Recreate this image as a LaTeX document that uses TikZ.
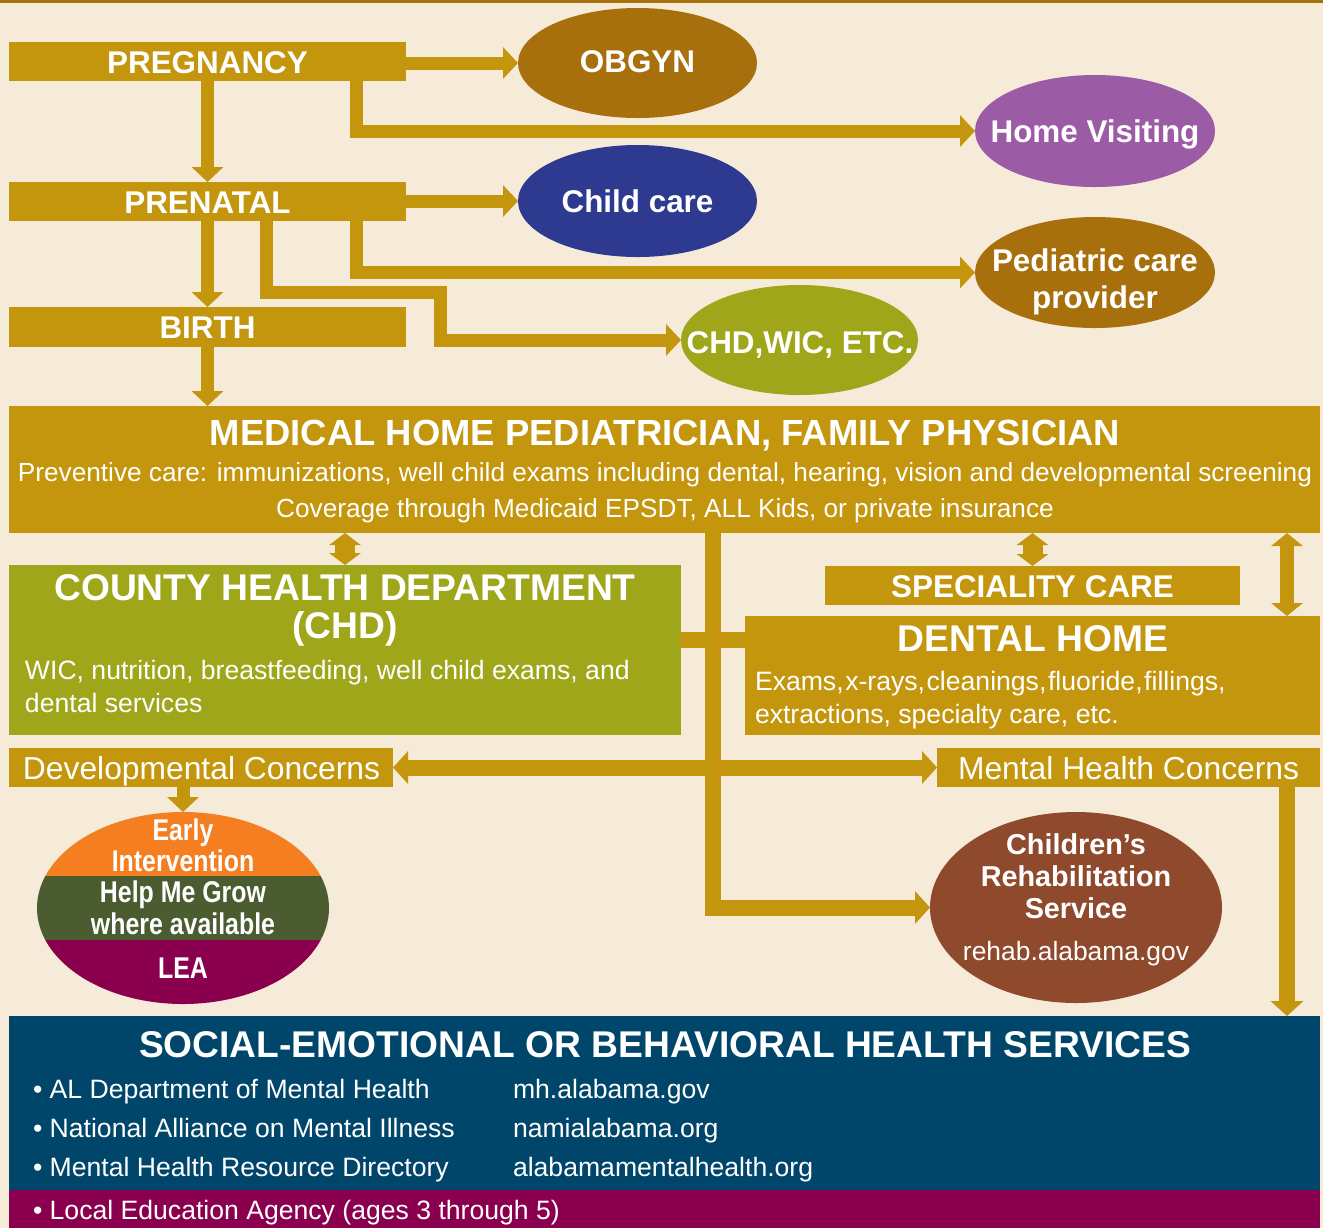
\documentclass[tikz,border=0pt]{standalone}
\usepackage{fontspec}
\setmainfont{Liberation Sans}
\newfontfamily\condfont[FakeStretch=0.83]{Liberation Sans}
\usetikzlibrary{arrows.meta,shapes.geometric,fit}
\definecolor{cream}{HTML}{F5EBD8}
\definecolor{gold}{HTML}{C4960E}
\definecolor{obrown}{HTML}{A8700C}
\definecolor{hvpurple}{HTML}{9B5BA5}
\definecolor{ccnavy}{HTML}{2D3A8F}
\definecolor{olive}{HTML}{A0A61A}
\definecolor{rust}{HTML}{8F4A2E}
\definecolor{eiorange}{HTML}{F47E20}
\definecolor{eigreen}{HTML}{4A5C30}
\definecolor{magent}{HTML}{8A004E}
\definecolor{sedblue}{HTML}{00456A}
\newcommand\fMid{\fontsize{15.7}{18}\selectfont\bfseries}
\newcommand\fBig{\fontsize{18.6}{21}\selectfont\bfseries}
\newcommand\fMed{\fontsize{18.2}{21}\selectfont\bfseries}
\newcommand\fReg{\fontsize{13.3}{16}\selectfont}
\newcommand\fPrev{\fontsize{13.1}{15}\selectfont}
\newcommand\fCon{\fontsize{15.9}{18}\selectfont}
\newcommand\fEI{\condfont\fontsize{15}{18}\selectfont\bfseries}
\newcommand\fCrs{\fontsize{14.4}{17}\selectfont\bfseries}
\begin{document}
\begin{tikzpicture}[x=0.5pt,y=-0.5pt,
  box/.style={rectangle, inner sep=0pt, outer sep=0pt},
  ell/.style={ellipse, inner sep=0pt, outer sep=0pt},
  t/.style={text=white, inner sep=0pt, outer sep=0pt, anchor=base},
  tl/.style={text=white, inner sep=0pt, outer sep=0pt, anchor=base west},
  conn/.style={draw=gold, line width=6.5pt, line join=miter, -{Triangle[width=15.5pt,length=7.5pt]}},
  connw/.style={draw=gold, line width=8pt, line join=miter},
  connwa/.style={draw=gold, line width=8pt, line join=miter, -{Triangle[width=16pt,length=7.5pt]}},
  connwd/.style={draw=gold, line width=8pt, {Triangle[width=16pt,length=7.5pt]}-{Triangle[width=16pt,length=7.5pt]}},
  dbl/.style={draw=gold, line width=10pt, {Triangle[width=15.5pt,length=6pt]}-{Triangle[width=15.5pt,length=6pt]}},
  dbltall/.style={draw=gold, line width=7pt, {Triangle[width=15.5pt,length=6.5pt]}-{Triangle[width=15.5pt,length=6.5pt]}}]
\useasboundingbox (0,0) rectangle (1323,1228);
\fill[cream] (0,0) rectangle (1323,1228);
\fill[obrown] (0,0) rectangle (1323,3);

% ---------- top boxes ----------
\node[box, fill=gold, fit={(9,42) (406,81)}] (preg) {};
\node[box, fill=gold, fit={(9,182) (406,221)}] (pren) {};
\node[box, fill=gold, fit={(9,307) (406,347)}] (birth) {};
\node[t, font=\fMid] (tpreg) at (207.5,73) {PREGNANCY};
\node[t, font=\fMid] (tpren) at (207.5,213) {PRENATAL};
\node[t, font=\fMid] (tbirth) at (207.5,338) {BIRTH};

% ---------- ellipses ----------
\node[ell, fill=obrown, minimum width=119.5pt, minimum height=55pt] (obgyn) at (637.5,63) {};
\node[ell, fill=hvpurple, minimum width=120pt, minimum height=56pt] (hv) at (1095,131) {};
\node[ell, fill=ccnavy, minimum width=119.5pt, minimum height=56pt] (cc) at (637.5,201) {};
\node[ell, fill=obrown, minimum width=120pt, minimum height=55.5pt] (ped) at (1095,272.5) {};
\node[ell, fill=olive, minimum width=118.5pt, minimum height=55pt] (chdwic) at (799.5,340) {};
\node[t, font=\fMid] (tobgyn) at (637.5,72) {OBGYN};
\node[t, font=\fMid] (thv) at (1095,142) {Home Visiting};
\node[t, font=\fMid] (tcc) at (637.5,212) {Child care};
\node[t, font=\fMid] (tped1) at (1095,271) {Pediatric care};
\node[t, font=\fMid] (tped2) at (1095,308) {provider};
\node[t, font=\fMid] (tchdwic) at (800,353) {CHD,WIC, ETC.};

% ---------- medical home ----------
\node[box, fill=gold, fit={(9,406) (1320,533)}] (med) {};
\node[t, font=\fMed] (tmed1) at (665,445) {MEDICAL HOME PEDIATRICIAN, FAMILY PHYSICIAN};
\node[t, font=\fPrev] (tmed2) at (665,481) {Preventive care: immunizations, well child exams including dental, hearing, vision and developmental screening};
\node[t, font=\fPrev] (tmed3) at (665,517) {Coverage through Medicaid EPSDT, ALL Kids, or private insurance};

% ---------- CHD ----------
\node[box, fill=olive, fit={(9,565) (681,735)}] (chd) {};
\node[t, font=\fBig] (tchd1) at (345,600) {COUNTY HEALTH DEPARTMENT};
\node[t, font=\fBig] (tchd2) at (345,638) {(CHD)};
\node[tl, font=\fReg] (tchd3) at (25,679) {WIC, nutrition, breastfeeding, well child exams, and};
\node[tl, font=\fReg] (tchd4) at (25,712) {dental services};

% ---------- speciality / dental ----------
\node[box, fill=gold, fit={(825,566) (1240,605)}] (spec) {};
\node[t, font=\fMid] (tspec) at (1032.5,597) {SPECIALITY CARE};
\node[box, fill=gold, fit={(745,616) (1320,735)}] (dental) {};
\node[t, font=\fBig] (tden1) at (1033,651) {DENTAL HOME};
\node[tl, font=\fReg] (tden2) at (755,690) {\spaceskip=0.8pt Exams, x-rays, cleanings, fluoride, fillings,};
\node[tl, font=\fReg] (tden3) at (755,723) {extractions, specialty care, etc.};

% ---------- concerns ----------
\node[box, fill=gold, fit={(9,748) (393,787)}] (dev) {};
\node[tl, font=\fCon] (tdev) at (23,779) {Developmental Concerns};
\node[box, fill=gold, fit={(937,748) (1320,787)}] (mental) {};
\node[tl, font=\fCon] (tmental) at (958,779) {Mental Health Concerns};

% ---------- early intervention ----------
\node[ell, minimum width=146pt, minimum height=96pt] (ei) at (183,908) {};
\begin{scope}
  \clip (ei.center) ellipse [x radius=73pt, y radius=48pt];
  \fill[eiorange] (30,805) rectangle (335,876);
  \fill[eigreen] (30,876) rectangle (335,940);
  \fill[magent] (30,940) rectangle (335,1010);
\end{scope}
\node[t, font=\fEI] (tei1) at (183,840) {Early};
\node[t, font=\fEI] (tei2) at (183,871) {Intervention};
\node[t, font=\fEI] (tei3) at (183,902) {Help Me Grow};
\node[t, font=\fEI] (tei4) at (183,934) {where available};
\node[t, font=\fEI] (tei5) at (183,978) {LEA};

% ---------- children's rehab ----------
\node[ell, fill=rust, minimum width=146pt, minimum height=95.5pt] (crs) at (1076,907.5) {};
\node[t, font=\fCrs] (tcrs1) at (1076,854) {Children’s};
\node[t, font=\fCrs] (tcrs2) at (1076,886) {Rehabilitation};
\node[t, font=\fCrs] (tcrs3) at (1076,918) {Service};
\node[t, font=\fontsize{13.2}{16}\selectfont] (tcrs4) at (1076,960) {rehab.alabama.gov};

% ---------- social emotional ----------
\node[box, fill=sedblue, fit={(9,1016) (1320,1190)}] (se) {};
\node[box, fill=magent, fit={(9,1190) (1320,1228)}] (lea) {};
\node[t, font=\fBig] (tse) at (665,1057) {SOCIAL-EMOTIONAL OR BEHAVIORAL HEALTH SERVICES};
\node[tl, font=\fReg] (b1) at (33,1098) {• AL Department of Mental Health};
\node[tl, font=\fReg] (b2) at (33,1137) {• National Alliance on Mental Illness};
\node[tl, font=\fReg] (b3) at (33,1176) {• Mental Health Resource Directory};
\node[tl, font=\fReg] (u1) at (513,1098) {mh.alabama.gov};
\node[tl, font=\fReg] (u2) at (513,1137) {namialabama.org};
\node[tl, font=\fReg] (u3) at (513,1176) {alabamamentalhealth.org};
\node[tl, font=\fReg] (b4) at (33,1219) {• Local Education Agency (ages 3 through 5)};

% ---------- connectors (top) ----------
\coordinate (xa) at (356.5,0);
\coordinate (xb) at (266,0);
\coordinate (bend) at (440,292);
\draw[conn] (preg.east |- obgyn.west) -- (obgyn.west);
\draw[conn] (preg.south -| xa) |- (hv.west);
\draw[conn] (preg.south) -- (pren.north);
\draw[conn] (pren.east |- cc.west) -- (cc.west);
\draw[conn] (pren.south -| xa) |- (ped.west);
\draw[conn] (pren.south -| xb) |- (bend) |- (chdwic.west);
\draw[conn] (pren.south) -- (birth.north);
\draw[conn] (birth.south) -- (birth.south |- med.north);

% ---------- connectors (lower) ----------
\coordinate (xm) at (713,0);
\coordinate (xr) at (1287,0);
\coordinate (yc) at (0,640);
\draw[dbl] (chd.north |- med.south) -- (chd.north);
\draw[dbl] (spec.north |- med.south) -- (spec.north);
\draw[dbltall] (med.south -| xr) -- (dental.north -| xr);
\draw[connw] (chd.east |- yc) -- (dental.west |- yc);
\draw[connwd] (dev.east) -- (mental.west);
\draw[connwa] (med.south -| xm) |- (crs.west);
\draw[conn] (dev.south -| ei.north) -- (ei.north);
\draw[connwa] (mental.south -| xr) -- (se.north -| xr);
\end{tikzpicture}
\end{document}
